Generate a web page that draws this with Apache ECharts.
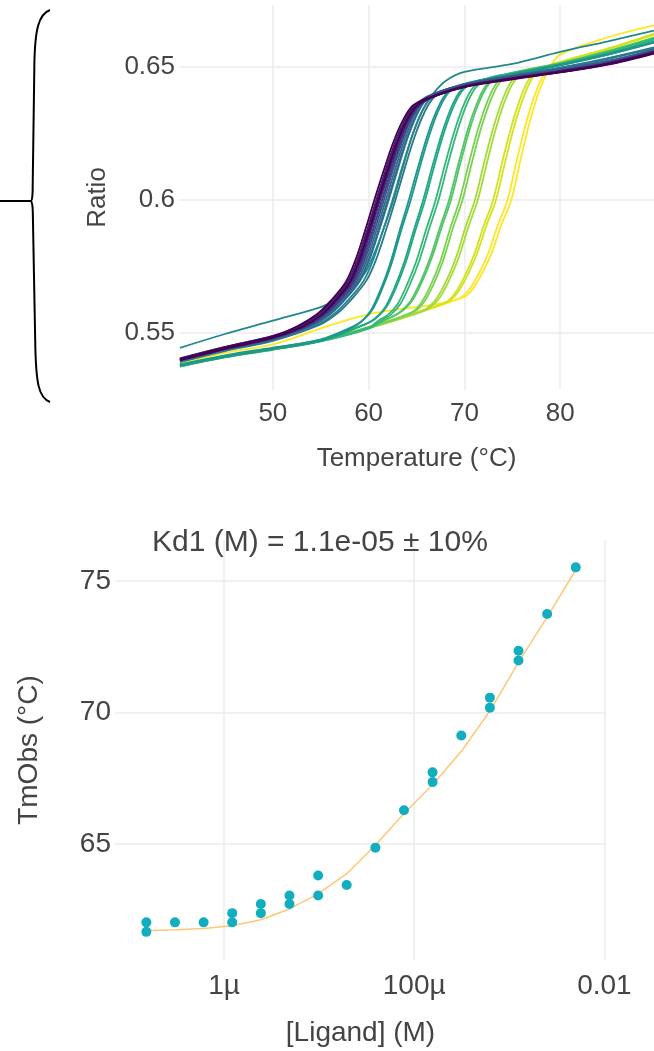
<!DOCTYPE html>
<html>
<head>
<meta charset="utf-8">
<script src="https://cdn.jsdelivr.net/npm/echarts@6.0.0/dist/echarts.min.js"></script>
<style>
  html, body { margin: 0; padding: 0; background: #fff; }
  #main { width: 654px; height: 1051px; }
</style>
</head>
<body>
<div id="main"></div>
<script>
// melting curves, [temperature (°C), ratio], two wells per ligand concentration
const melt00a = [[40.3,0.5403],[45,0.5446],[50,0.5488],[52.6,0.5527],[54.6,0.5571],[56.1,0.5624],[57.6,0.5691],[58.6,0.5772],[59.6,0.5881],[60.6,0.600],[61.6,0.6113],[62.6,0.6218],[63.6,0.630],[64.6,0.6353],[66.1,0.6381],[70,0.6425],[75,0.6455],[80,0.648],[85,0.651],[89.8,0.6552]]
const melt00b = [[40.3,0.5399],[45,0.5441],[50,0.5483],[53.0,0.5523],[55.0,0.5567],[56.5,0.5621],[58.0,0.5689],[59.0,0.5771],[60.0,0.5881],[61.0,0.600],[62.0,0.6113],[63.0,0.6218],[64.0,0.6300],[65.0,0.6352],[66.5,0.6384],[70,0.6423],[75,0.6452],[80,0.6478],[85,0.6507],[89.8,0.6549]]
const melt01a = [[40.3,0.5406],[45,0.5449],[50,0.5490],[52.8,0.5528],[54.8,0.5572],[56.3,0.5625],[57.8,0.5692],[58.8,0.5773],[59.8,0.5882],[60.8,0.600],[61.8,0.6114],[62.8,0.6219],[63.8,0.6301],[64.8,0.6354],[66.3,0.6383],[70,0.6427],[75,0.6457],[80,0.6483],[85,0.6513],[89.8,0.6556]]
const melt01b = [[40.3,0.5401],[45,0.5444],[50,0.5485],[53.1,0.5524],[55.1,0.5568],[56.6,0.5622],[58.1,0.5690],[59.1,0.5772],[60.1,0.5882],[61.1,0.600],[62.1,0.6113],[63.1,0.6218],[64.1,0.6300],[65.1,0.6353],[66.6,0.6385],[70,0.6424],[75,0.6454],[80,0.6479],[85,0.6509],[89.8,0.6551]]
const melt02a = [[40.3,0.5405],[45,0.5448],[50,0.5489],[53.0,0.5527],[55.0,0.5570],[56.5,0.5623],[58.0,0.5690],[59.0,0.5771],[60.0,0.5881],[61.0,0.600],[62.0,0.6114],[63.0,0.6219],[64.0,0.6302],[65.0,0.6355],[66.5,0.6386],[70,0.6426],[75,0.6456],[80,0.6481],[85,0.6512],[89.8,0.6554]]
const melt02b = [[40.3,0.5398],[45,0.5440],[50,0.5481],[53.2,0.5522],[55.2,0.5566],[56.7,0.5620],[58.2,0.5688],[59.2,0.5770],[60.2,0.5881],[61.2,0.600],[62.2,0.6113],[63.2,0.6218],[64.2,0.6301],[65.2,0.6354],[66.7,0.6386],[70,0.6424],[75,0.6455],[80,0.6480],[85,0.6510],[89.8,0.6553]]
const melt03a = [[40.3,0.5402],[45,0.5445],[50,0.5484],[53.4,0.5523],[55.4,0.5567],[56.9,0.5621],[58.4,0.5689],[59.4,0.5771],[60.4,0.5882],[61.4,0.600],[62.4,0.6114],[63.4,0.6220],[64.4,0.6303],[65.4,0.6357],[66.9,0.6389],[70,0.6427],[75,0.6458],[80,0.6484],[85,0.6514],[89.8,0.6557]]
const melt03b = [[40.3,0.5400],[45,0.5443],[50,0.5485],[52.9,0.5524],[54.9,0.5568],[56.4,0.5622],[57.9,0.5690],[58.9,0.5772],[59.9,0.5882],[60.9,0.600],[61.9,0.6114],[62.9,0.6220],[63.9,0.6302],[64.9,0.6355],[66.4,0.6386],[70,0.6426],[75,0.6456],[80,0.6482],[85,0.6512],[89.8,0.6554]]
const melt04a = [[40.3,0.5398],[45,0.5441],[50,0.5479],[53.6,0.5527],[55.6,0.5572],[57.1,0.5626],[58.6,0.5694],[59.6,0.5775],[60.6,0.5883],[61.6,0.600],[62.6,0.6119],[63.6,0.623],[64.6,0.6317],[65.6,0.6372],[67.1,0.6402],[70,0.6433],[75,0.6463],[80,0.6488],[85,0.6518],[89.8,0.656]]
const melt04b = [[40.3,0.5401],[45,0.5444],[50,0.5481],[53.4,0.5526],[55.4,0.5571],[56.9,0.5625],[58.4,0.5693],[59.4,0.5774],[60.4,0.5882],[61.4,0.600],[62.4,0.6118],[63.4,0.6229],[64.4,0.6316],[65.4,0.6371],[66.9,0.6400],[70,0.6431],[75,0.6461],[80,0.6486],[85,0.6516],[89.8,0.6558]]
const melt05a = [[40.3,0.5396],[45,0.5439],[50,0.5477],[54.0,0.5528],[56.0,0.5573],[57.5,0.5627],[59.0,0.5695],[60.0,0.5776],[61.0,0.5884],[62.0,0.600],[63.0,0.6120],[64.0,0.6232],[65.0,0.6319],[66.0,0.6374],[67.5,0.6404],[70,0.6434],[75,0.6465],[80,0.6491],[85,0.6522],[89.8,0.6565]]
const melt05b = [[40.3,0.5399],[45,0.5442],[50,0.5480],[53.8,0.5528],[55.8,0.5573],[57.3,0.5627],[58.8,0.5695],[59.8,0.5776],[60.8,0.5884],[61.8,0.600],[62.8,0.6119],[63.8,0.6231],[64.8,0.6318],[65.8,0.6373],[67.3,0.6403],[70,0.6433],[75,0.6464],[80,0.6489],[85,0.6520],[89.8,0.6563]]
const melt06a = [[40.3,0.5393],[45,0.5435],[50,0.5473],[54.8,0.5530],[56.8,0.5577],[58.3,0.5631],[59.8,0.5699],[60.8,0.5778],[61.8,0.5885],[62.8,0.600],[63.8,0.6122],[64.8,0.6237],[65.8,0.6326],[66.8,0.6384],[68.3,0.6413],[70,0.6432],[75,0.6465],[80,0.6495],[85,0.653],[89.8,0.657]]
const melt06b = [[40.3,0.5396],[45,0.5438],[50,0.5475],[54.1,0.5528],[56.1,0.5575],[57.6,0.5629],[59.1,0.5697],[60.1,0.5777],[61.1,0.5885],[62.1,0.600],[63.1,0.6121],[64.1,0.6235],[65.1,0.6324],[66.1,0.6382],[67.6,0.6408],[70,0.6431],[75,0.6464],[80,0.6494],[85,0.6529],[89.8,0.6569]]
const melt07a = [[40.3,0.5392],[45,0.5433],[50,0.5471],[54.5,0.5529],[56.5,0.5576],[58.0,0.5630],[59.5,0.5698],[60.5,0.5778],[61.5,0.5885],[62.5,0.600],[63.5,0.6122],[64.5,0.6236],[65.5,0.6325],[66.5,0.6383],[68.0,0.6411],[70,0.6432],[75,0.6466],[80,0.6496],[85,0.6532],[89.8,0.6572]]
const melt07b = [[40.3,0.5445],[45,0.5497],[50,0.5547],[55,0.5598],[56.6,0.5625],[58.1,0.5660],[59.6,0.5725],[60.6,0.5800],[61.6,0.5895],[62.6,0.600],[63.6,0.6125],[64.6,0.6245],[65.6,0.6335],[66.6,0.6392],[68,0.6445],[70,0.648],[75,0.651],[80,0.6555],[85,0.6595],[89.8,0.6635]]
const melt08a = [[40.3,0.5378],[45,0.5412],[50,0.5441],[55,0.5472],[58.2,0.5519],[59.2,0.5542],[60.2,0.5583],[61.2,0.5659],[62.2,0.5756],[63.2,0.5880],[64.2,0.600],[65.2,0.6128],[66.2,0.6248],[67.2,0.6342],[68.2,0.6402],[69.7,0.6432],[75,0.647],[80,0.6505],[85,0.6545],[89.8,0.659]]
const melt08b = [[40.3,0.5383],[45,0.5417],[50,0.5446],[55,0.5477],[58.4,0.5526],[59.4,0.5549],[60.4,0.5589],[61.4,0.5665],[62.4,0.5762],[63.4,0.5885],[64.4,0.600],[65.4,0.6129],[66.4,0.6249],[67.4,0.6344],[68.4,0.6404],[69.9,0.6434],[75,0.6472],[80,0.6507],[85,0.6548],[89.8,0.6593]]
const melt09a = [[40.3,0.5376],[45,0.5410],[50,0.5439],[55,0.5470],[59.7,0.5534],[60.7,0.5556],[61.7,0.5596],[62.7,0.5670],[63.7,0.5764],[64.7,0.5884],[65.7,0.600],[66.7,0.6132],[67.7,0.6255],[68.7,0.6352],[69.7,0.6414],[71.2,0.6444],[75,0.647],[80,0.6505],[85,0.6545],[89.8,0.659]]
const melt09b = [[40.3,0.5380],[45,0.5414],[50,0.5443],[55,0.5474],[59.9,0.5538],[60.9,0.5560],[61.9,0.5600],[62.9,0.5674],[63.9,0.5768],[64.9,0.5887],[65.9,0.600],[66.9,0.6133],[67.9,0.6256],[68.9,0.6353],[69.9,0.6415],[71.4,0.6446],[75,0.6473],[80,0.6508],[85,0.6549],[89.8,0.6595]]
const melt10a = [[40.3,0.5378],[45,0.5412],[50,0.5441],[55,0.5472],[60,0.5520],[61,0.5547],[62,0.5569],[63,0.5608],[64,0.5681],[65,0.5772],[66,0.5888],[67,0.600],[68,0.6136],[69,0.6262],[70,0.6362],[71,0.6425],[72.5,0.6457],[75,0.6475],[80,0.651],[85,0.6555],[89.8,0.6605]]
const melt10b = [[40.3,0.5375],[45,0.5409],[50,0.5438],[55,0.5469],[60,0.5517],[61.3,0.5547],[62.3,0.5569],[63.3,0.5609],[64.3,0.5682],[65.3,0.5773],[66.3,0.5889],[67.3,0.600],[68.3,0.6137],[69.3,0.6263],[70.3,0.6363],[71.3,0.6426],[72.8,0.6458],[75,0.6474],[80,0.6508],[85,0.6552],[89.8,0.6601]]
const melt11a = [[40.3,0.5379],[45,0.5413],[50,0.5442],[55,0.5473],[60,0.5521],[62.4,0.5561],[63.4,0.5583],[64.4,0.5622],[65.4,0.5692],[66.4,0.5780],[67.4,0.5892],[68.4,0.600],[69.4,0.6139],[70.4,0.6269],[71.4,0.6370],[72.4,0.6435],[73.9,0.6466],[75,0.6476],[80,0.6511],[85,0.6556],[89.8,0.6606]]
const melt11b = [[40.3,0.5381],[45,0.5415],[50,0.5444],[55,0.5475],[60,0.5523],[62.6,0.5564],[63.6,0.5586],[64.6,0.5625],[65.6,0.5695],[66.6,0.5783],[67.6,0.5894],[68.6,0.600],[69.6,0.6140],[70.6,0.6270],[71.6,0.6371],[72.6,0.6436],[74.1,0.6468],[75,0.6477],[80,0.6513],[85,0.6558],[89.8,0.6609]]
const melt12a = [[40.3,0.5377],[45,0.5411],[50,0.5440],[55,0.5471],[60,0.5519],[64.5,0.5578],[65.5,0.5614],[66.5,0.5681],[67.5,0.5771],[68.5,0.5891],[69.5,0.600],[70.5,0.6142],[71.5,0.6274],[72.5,0.6378],[73.5,0.6444],[75.0,0.6475],[80,0.651],[85,0.6555],[89.8,0.6605]]
const melt12b = [[40.3,0.5380],[45,0.5414],[50,0.5443],[55,0.5474],[60,0.5522],[64.8,0.5582],[65.8,0.5618],[66.8,0.5685],[67.8,0.5775],[68.8,0.5894],[69.8,0.600],[70.8,0.6142],[71.8,0.6275],[72.8,0.6379],[73.8,0.6445],[75.3,0.6478],[80,0.6513],[85,0.6558],[89.8,0.6609]]
const melt13a = [[40.3,0.5378],[45,0.5412],[50,0.5441],[55,0.5472],[60,0.5520],[65,0.5575],[66.1,0.5594],[67.1,0.5630],[68.1,0.5695],[69.1,0.5781],[70.1,0.5896],[71.1,0.600],[72.1,0.6145],[73.1,0.6280],[74.1,0.6386],[75.1,0.6453],[76.6,0.6485],[80,0.651],[85,0.6555],[89.8,0.6605]]
const melt13b = [[40.3,0.5376],[45,0.5410],[50,0.5439],[55,0.5470],[60,0.5518],[65,0.5573],[66.4,0.5596],[67.4,0.5632],[68.4,0.5698],[69.4,0.5783],[70.4,0.5897],[71.4,0.600],[72.4,0.6145],[73.4,0.6281],[74.4,0.6387],[75.4,0.6454],[76.9,0.6487],[80,0.6508],[85,0.6553],[89.8,0.6602]]
const melt14a = [[40.3,0.5378],[45,0.5412],[50,0.5441],[55,0.5472],[60,0.5520],[65,0.5575],[68,0.5615],[69,0.5649],[70,0.5711],[71,0.5793],[72,0.5901],[73,0.600],[74,0.6149],[75,0.6287],[76,0.6396],[77,0.6465],[78.5,0.6500],[80,0.6515],[85,0.6565],[89.8,0.662]]
const melt14b = [[40.3,0.5381],[45,0.5415],[50,0.5444],[55,0.5475],[60,0.5523],[65,0.5578],[68.3,0.5619],[69.3,0.5653],[70.3,0.5715],[71.3,0.5797],[72.3,0.5904],[73.3,0.600],[74.3,0.6149],[75.3,0.6288],[76.3,0.6397],[77.3,0.6467],[78.8,0.6503],[80,0.6518],[85,0.6568],[89.8,0.6624]]
const melt15a = [[40.3,0.5378],[45,0.5412],[50,0.5441],[55,0.5472],[60,0.5520],[65,0.5575],[69.5,0.5631],[70.5,0.5664],[71.5,0.5723],[72.5,0.5801],[73.5,0.5906],[74.5,0.600],[75.5,0.6153],[76.5,0.6296],[77.5,0.6408],[78.5,0.6479],[80,0.6515],[85,0.6565],[89.8,0.662]]
const melt15b = [[40.3,0.5386],[45,0.5426],[50,0.5458],[55,0.5518],[58,0.5552],[61,0.5578],[64,0.5594],[67,0.5608],[70,0.5636],[70.9,0.5668],[71.9,0.5728],[72.9,0.5806],[73.9,0.5910],[74.9,0.600],[75.9,0.6156],[76.9,0.6302],[77.9,0.6418],[78.9,0.6494],[80,0.6545],[85,0.661],[89.8,0.6655]]

// drawn highest concentration first so the low-concentration purple ends on top
const meltLines = [melt15a, melt15b, melt14a, melt14b, melt13a, melt13b, melt12a, melt12b,
  melt11a, melt11b, melt10a, melt10b, melt09a, melt09b, melt08a, melt08b,
  melt07a, melt07b, melt06a, melt06b, melt05a, melt05b, melt04a, melt04b,
  melt03a, melt03b, melt02a, melt02b, melt01a, melt01b, melt00a, melt00b]
const meltConcIdx = [15,15,14,14,13,13,12,12,11,11,10,10,9,9,8,8,7,7,6,6,5,5,4,4,3,3,2,2,1,1,0,0]
const viridis16 = ['#440154','#481a6c','#472f7d','#414487','#39568c','#31688e','#2a788e','#23888e',
  '#1f988b','#22a884','#35b779','#54c568','#7ad151','#a5db36','#d2e21b','#fde725']

// titration: ligand concentration (M), observed Tm (°C) of the two wells, and the fit
const ligandConc = [1.526e-7, 3.05e-7, 6.1e-7, 1.22e-6, 2.44e-6, 4.88e-6, 9.77e-6, 1.95e-5,
  3.91e-5, 7.81e-5, 1.56e-4, 3.13e-4, 6.25e-4, 1.25e-3, 2.5e-3, 5e-3]
const tmObsA = [62.03, 62.03, 62.03, 62.38, 62.73, 63.05, 63.81, 63.45, 64.87, 66.29, 67.73, 69.13, 70.57, 72.35, 73.75, 75.52]
const tmObsB = [61.67, null, null, 62.03, 62.38, 62.73, 63.05, null, null, null, 67.36, null, 70.19, 71.98, null, null]
const tmFit = [61.71, 61.75, 61.80, 61.90, 62.13, 62.54, 63.11, 63.88, 64.96, 66.17, 67.26, 68.53, 70.06, 71.91, 73.63, 75.42]
const ligandTickText = { '-6': '1µ', '-4': '100µ', '-2': '0.01' }

const FONT = 'Liberation Sans, Arial, sans-serif'
const TXT = '#444'
const GRID = '#ebebeb'

const chart = echarts.init(document.getElementById('main'))

const meltSeries = meltLines.map((pts, i) => ({
  type: 'line',
  xAxisIndex: 0,
  yAxisIndex: 0,
  data: pts,
  smooth: 0.35,
  showSymbol: false,
  silent: true,
  lineStyle: { width: 1.8, color: viridis16[meltConcIdx[i]] }
}))

const obsPoints = []
ligandConc.forEach((c, i) => {
  obsPoints.push([c, tmObsA[i]])
  if (tmObsB[i] != null) obsPoints.push([c, tmObsB[i]])
})

chart.setOption({
  animation: false,
  backgroundColor: '#fff',
  textStyle: { fontFamily: FONT },
  title: {
    text: 'Kd1 (M) = 1.1e-05 ± 10%',
    left: 152,
    top: 528,
    padding: 0,
    textStyle: { fontSize: 30, fontWeight: 'normal', color: TXT, fontFamily: FONT }
  },
  grid: [
    { left: 179, right: 0, top: 5, height: 385 },
    { left: 115, right: 48, top: 540, height: 420 }
  ],
  xAxis: [
    {
      gridIndex: 0, type: 'value', min: 40.2, max: 89.8,
      name: 'Temperature (°C)', nameLocation: 'middle', nameGap: 56,
      nameTextStyle: { fontSize: 26, color: TXT, fontFamily: FONT },
      axisLine: { show: false }, axisTick: { show: false },
      axisLabel: { fontSize: 26, color: TXT, margin: 11, showMinLabel: false, showMaxLabel: false, fontFamily: FONT },
      splitLine: { show: true, showMinLine: false, showMaxLine: false, lineStyle: { color: GRID, width: 1.5 } }
    },
    {
      gridIndex: 1, type: 'log', logBase: 100, min: 7.14e-8, max: 0.0104,
      name: '[Ligand] (M)', nameLocation: 'middle', nameGap: 59,
      nameTextStyle: { fontSize: 28, color: TXT, fontFamily: FONT },
      axisLine: { show: false }, axisTick: { show: false },
      axisLabel: {
        fontSize: 28, color: TXT, margin: 12, showMinLabel: false, showMaxLabel: false, fontFamily: FONT,
        formatter: v => ligandTickText[String(Math.round(Math.log10(v)))] || ''
      },
      splitLine: { show: true, showMinLine: false, showMaxLine: false, lineStyle: { color: GRID, width: 1.5 } }
    }
  ],
  yAxis: [
    {
      gridIndex: 0, type: 'value', min: 0.5287, max: 0.6731, splitNumber: 3,
      name: 'Ratio', nameLocation: 'middle', nameGap: 68,
      nameTextStyle: { fontSize: 26, color: TXT, fontFamily: FONT },
      axisLine: { show: false }, axisTick: { show: false },
      axisLabel: { fontSize: 26, color: TXT, margin: 4, showMinLabel: false, showMaxLabel: false, fontFamily: FONT },
      splitLine: { show: true, showMinLine: false, showMaxLine: false, lineStyle: { color: GRID, width: 1.5 } }
    },
    {
      gridIndex: 1, type: 'value', min: 60.6, max: 76.56, splitNumber: 3,
      name: 'TmObs (°C)', nameLocation: 'middle', nameGap: 72,
      nameTextStyle: { fontSize: 28, color: TXT, fontFamily: FONT },
      axisLine: { show: false }, axisTick: { show: false },
      axisLabel: { fontSize: 28, color: TXT, margin: 4, showMinLabel: false, showMaxLabel: false, fontFamily: FONT },
      splitLine: { show: true, showMinLine: false, showMaxLine: false, lineStyle: { color: GRID, width: 1.5 } }
    }
  ],
  series: meltSeries.concat([
    {
      type: 'line', xAxisIndex: 1, yAxisIndex: 1,
      data: ligandConc.map((c, i) => [c, tmFit[i]]),
      showSymbol: false, silent: true, z: 2,
      lineStyle: { width: 1.5, color: '#fdc777' }
    },
    {
      type: 'scatter', xAxisIndex: 1, yAxisIndex: 1,
      data: obsPoints, symbolSize: 10, z: 3,
      itemStyle: { color: '#12aebf', opacity: 1 }
    }
  ]),
  graphic: [
    { type: 'bezierCurve', shape: { x1: 50, y1: 10, cpx1: 39, cpy1: 14, cpx2: 34.5, cpy2: 28, x2: 34.3, y2: 70 }, style: { stroke: '#000', lineWidth: 2, fill: 'none' } },
    { type: 'line', shape: { x1: 34.3, y1: 70, x2: 32.6, y2: 192 }, style: { stroke: '#000', lineWidth: 2 } },
    { type: 'bezierCurve', shape: { x1: 32.6, y1: 192, cpx1: 32.4, cpy1: 199, cpx2: 31.6, cpy2: 201, x2: 31, y2: 201 }, style: { stroke: '#000', lineWidth: 2, fill: 'none' } },
    { type: 'bezierCurve', shape: { x1: 31, y1: 201, cpx1: 31.8, cpy1: 202, cpx2: 32.6, cpy2: 204, x2: 32.8, y2: 212 }, style: { stroke: '#000', lineWidth: 2, fill: 'none' } },
    { type: 'line', shape: { x1: 32.8, y1: 212, x2: 35.2, y2: 340 }, style: { stroke: '#000', lineWidth: 2 } },
    { type: 'bezierCurve', shape: { x1: 35.2, y1: 340, cpx1: 35.8, cpy1: 385, cpx2: 39, cpy2: 398, x2: 50, y2: 402 }, style: { stroke: '#000', lineWidth: 2, fill: 'none' } },
    { type: 'line', shape: { x1: 0, y1: 201, x2: 31, y2: 201 }, style: { stroke: '#000', lineWidth: 2 } }
  ]
})
</script>
</body>
</html>
